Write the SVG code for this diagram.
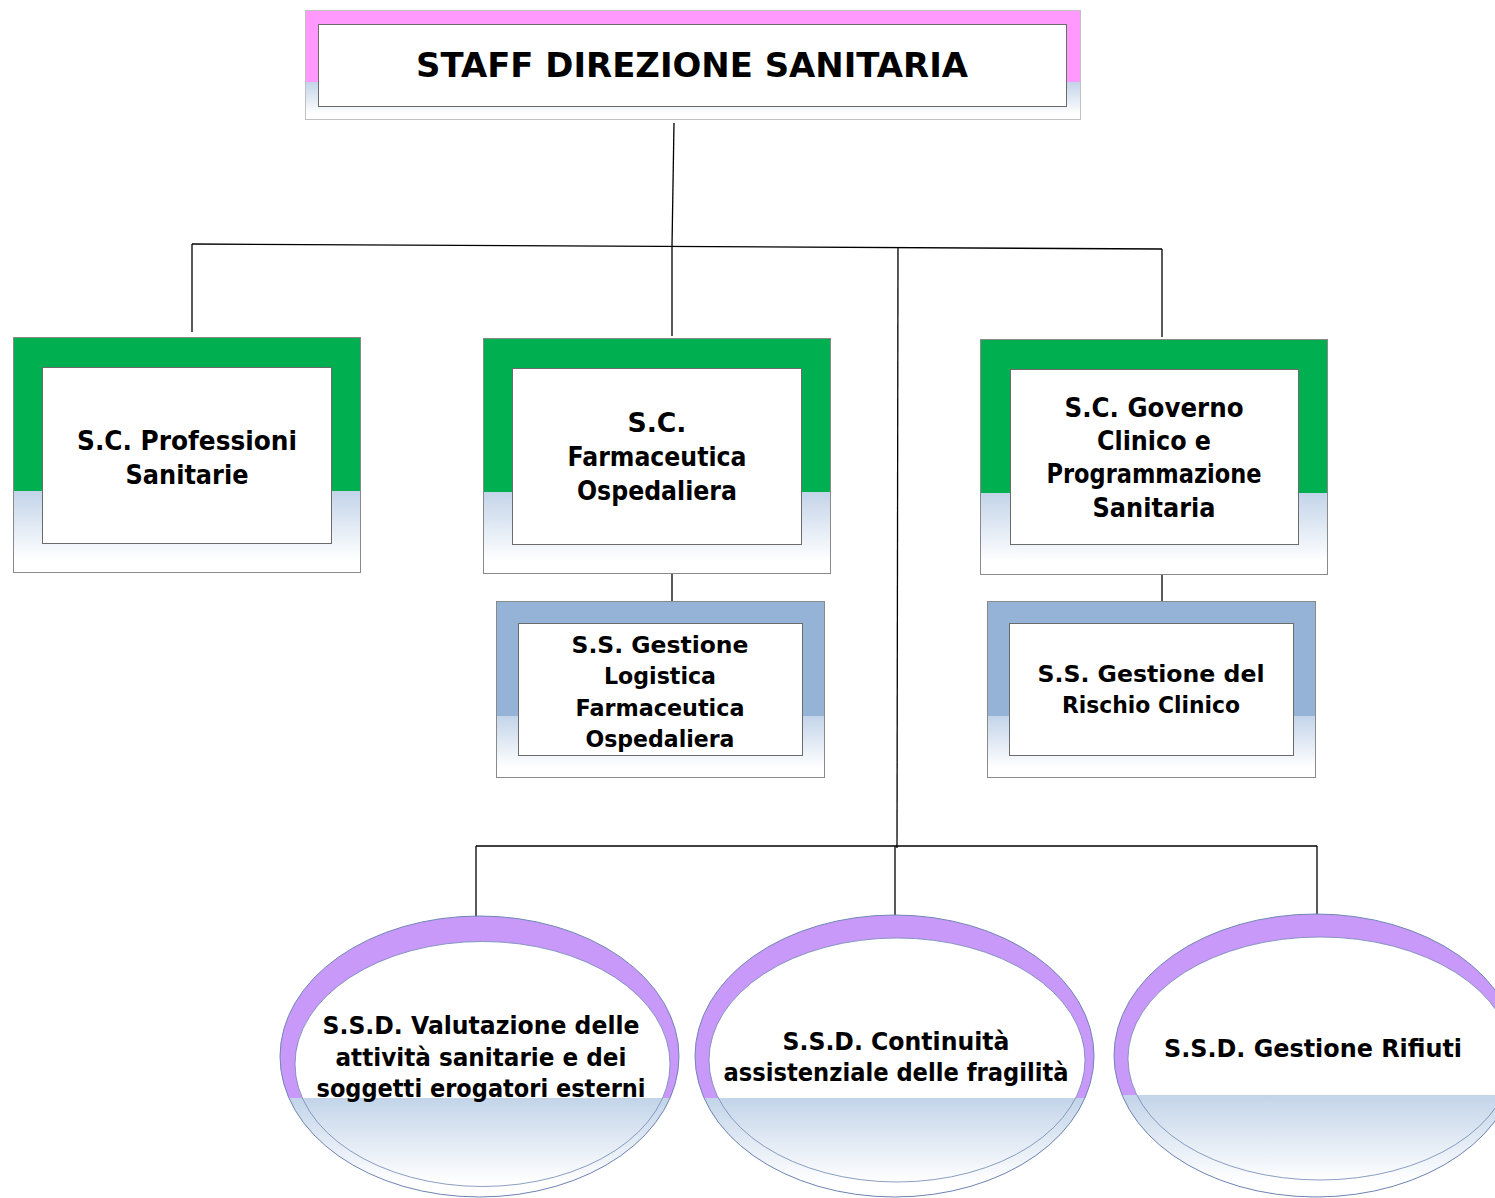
<svg xmlns="http://www.w3.org/2000/svg" width="1495" height="1198" viewBox="0 0 1495 1198">
<defs>
<linearGradient id="fade" x1="0" y1="0" x2="0" y2="1">
<stop offset="0" stop-color="#c3d4e9"/>
<stop offset="0.85" stop-color="#ffffff"/>
<stop offset="1" stop-color="#ffffff"/>
</linearGradient>
<clipPath id="c1"><ellipse cx="479.5" cy="1056.5" rx="199.5" ry="140.5"/></clipPath>
<clipPath id="c2"><ellipse cx="894.5" cy="1056" rx="199.5" ry="141"/></clipPath>
<clipPath id="c3"><ellipse cx="1316" cy="1055.5" rx="202" ry="141.5"/></clipPath>
</defs>
<style>
.t{font-family:"DejaVu Sans","Liberation Sans",sans-serif;font-weight:bold;fill:#000;text-anchor:middle}
.f26{font-size:26px}.f23{font-size:23px}.f25{font-size:25px}.f33{font-size:33px}
.outer{fill:none;stroke:#8a8a8a;stroke-width:1}
.inner{fill:#fff;stroke:#6b6b6b;stroke-width:1}
.green{fill:#00b050}.blue{fill:#95b3d7}.pink{fill:#ff99fe}.purple{fill:#c899f9}
.eo{fill:none;stroke:#6f87b3;stroke-width:1}
.ei{fill:none;stroke:#6f87b3;stroke-width:0.8}
.conn line,.conn polyline{stroke:#000;stroke-width:1.3;fill:none}
</style>

<g id="connectors" class="conn">
<line x1="674" y1="123" x2="672" y2="246"/>
<line x1="192" y1="244" x2="1162" y2="249"/>
<line x1="192" y1="244" x2="192" y2="332"/>
<line x1="672" y1="246" x2="672" y2="336"/>
<line x1="1162" y1="249" x2="1162" y2="337"/>
<line x1="898" y1="248" x2="897" y2="848"/>
<line x1="672" y1="573" x2="672" y2="601"/>
<line x1="1162" y1="574" x2="1162" y2="601"/>
<line x1="476" y1="846" x2="1317" y2="846"/>
<line x1="476" y1="846" x2="476" y2="917"/>
<line x1="895" y1="846" x2="895" y2="916"/>
<line x1="1317" y1="846" x2="1317" y2="915"/>
</g>

<g id="staff-direzione">
<rect class="pink" x="305" y="10" width="776" height="72"/>
<rect fill="url(#fade)" x="305" y="82" width="776" height="38"/>
<rect x="305.5" y="10.5" width="775" height="109" fill="none" stroke="#c0c0c0"/>
<rect class="inner" x="318.5" y="24.5" width="748" height="82" stroke="#8a8a8a"/>
<text class="t f33" x="692" y="77" textLength="552" lengthAdjust="spacingAndGlyphs">STAFF DIREZIONE SANITARIA</text>
</g>

<g id="sc-professioni">
<rect class="green" x="13" y="337" width="347" height="154"/>
<rect fill="url(#fade)" x="13" y="491" width="347" height="81"/>
<rect class="outer" x="13.5" y="337.5" width="347" height="235"/>
<rect class="inner" x="42.5" y="367.5" width="289" height="176"/>
<text class="t f26" x="187" y="450" textLength="220" lengthAdjust="spacingAndGlyphs">S.C. Professioni</text>
<text class="t f26" x="187" y="484" textLength="123" lengthAdjust="spacingAndGlyphs">Sanitarie</text>
</g>

<g id="sc-farmaceutica">
<rect class="green" x="483" y="338" width="347" height="154"/>
<rect fill="url(#fade)" x="483" y="492" width="347" height="81"/>
<rect class="outer" x="483.5" y="338.5" width="347" height="235"/>
<rect class="inner" x="512.5" y="368.5" width="289" height="176"/>
<text class="t f26" x="657" y="432" textLength="59" lengthAdjust="spacingAndGlyphs">S.C.</text>
<text class="t f26" x="657" y="466" textLength="179" lengthAdjust="spacingAndGlyphs">Farmaceutica</text>
<text class="t f26" x="657" y="500" textLength="160" lengthAdjust="spacingAndGlyphs">Ospedaliera</text>
</g>

<g id="sc-governo">
<rect class="green" x="980" y="339" width="347" height="154"/>
<rect fill="url(#fade)" x="980" y="493" width="347" height="81"/>
<rect class="outer" x="980.5" y="339.5" width="347" height="235"/>
<rect class="inner" x="1010.5" y="369.5" width="288" height="175"/>
<text class="t f26" x="1154" y="417" textLength="179" lengthAdjust="spacingAndGlyphs">S.C. Governo</text>
<text class="t f26" x="1154" y="450" textLength="114" lengthAdjust="spacingAndGlyphs">Clinico e</text>
<text class="t f26" x="1154" y="483" textLength="215" lengthAdjust="spacingAndGlyphs">Programmazione</text>
<text class="t f26" x="1154" y="517" textLength="123" lengthAdjust="spacingAndGlyphs">Sanitaria</text>
</g>

<g id="ss-logistica">
<rect class="blue" x="496" y="601" width="328" height="115"/>
<rect fill="url(#fade)" x="496" y="716" width="328" height="61"/>
<rect class="outer" x="496.5" y="601.5" width="328" height="176" stroke="#a0a0a0"/>
<rect class="inner" x="518.5" y="623.5" width="284" height="132"/>
<text class="t f23" x="660" y="653" textLength="177" lengthAdjust="spacingAndGlyphs">S.S. Gestione</text>
<text class="t f23" x="660" y="684" textLength="112" lengthAdjust="spacingAndGlyphs">Logistica</text>
<text class="t f23" x="660" y="716" textLength="169" lengthAdjust="spacingAndGlyphs">Farmaceutica</text>
<text class="t f23" x="660" y="747" textLength="149" lengthAdjust="spacingAndGlyphs">Ospedaliera</text>
</g>

<g id="ss-rischio">
<rect class="blue" x="987" y="601" width="328" height="115"/>
<rect fill="url(#fade)" x="987" y="716" width="328" height="61"/>
<rect class="outer" x="987.5" y="601.5" width="328" height="176" stroke="#a0a0a0"/>
<rect class="inner" x="1009.5" y="623.5" width="284" height="132"/>
<text class="t f23" x="1151" y="682" textLength="227" lengthAdjust="spacingAndGlyphs">S.S. Gestione del</text>
<text class="t f23" x="1151" y="713" textLength="178" lengthAdjust="spacingAndGlyphs">Rischio Clinico</text>
</g>

<g id="ssd-valutazione">
<ellipse class="purple" cx="479.5" cy="1056.5" rx="199.5" ry="140.5"/>
<ellipse fill="#fff" cx="482.5" cy="1064" rx="187.5" ry="122.5"/>
<rect fill="url(#fade)" x="270" y="1098" width="420" height="100" clip-path="url(#c1)"/>
<ellipse class="eo" cx="479.5" cy="1056.5" rx="199.5" ry="140.5"/>
<ellipse class="ei" cx="482.5" cy="1064" rx="187.5" ry="122.5"/>
<text class="t f25" x="481" y="1034" textLength="317" lengthAdjust="spacingAndGlyphs">S.S.D. Valutazione delle</text>
<text class="t f25" x="481" y="1066" textLength="291" lengthAdjust="spacingAndGlyphs">attività sanitarie e dei</text>
<text class="t f25" x="481" y="1097" textLength="329" lengthAdjust="spacingAndGlyphs">soggetti erogatori esterni</text>
</g>

<g id="ssd-continuita">
<ellipse class="purple" cx="894.5" cy="1056" rx="199.5" ry="141"/>
<ellipse fill="#fff" cx="897" cy="1060" rx="188" ry="122"/>
<rect fill="url(#fade)" x="690" y="1098" width="420" height="100" clip-path="url(#c2)"/>
<ellipse class="eo" cx="894.5" cy="1056" rx="199.5" ry="141"/>
<ellipse class="ei" cx="897" cy="1060" rx="188" ry="122"/>
<text class="t f25" x="896" y="1050" textLength="227" lengthAdjust="spacingAndGlyphs">S.S.D. Continuità</text>
<text class="t f25" x="896" y="1081" textLength="345" lengthAdjust="spacingAndGlyphs">assistenziale delle fragilità</text>
</g>

<g id="ssd-rifiuti">
<ellipse class="purple" cx="1316" cy="1055.5" rx="202" ry="141.5"/>
<ellipse fill="#fff" cx="1320" cy="1058.5" rx="192" ry="121.5"/>
<rect fill="url(#fade)" x="1100" y="1095" width="420" height="103" clip-path="url(#c3)"/>
<ellipse class="eo" cx="1316" cy="1055.5" rx="202" ry="141.5"/>
<ellipse class="ei" cx="1320" cy="1058.5" rx="192" ry="121.5"/>
<text class="t f25" x="1313" y="1057" textLength="298" lengthAdjust="spacingAndGlyphs">S.S.D. Gestione Rifiuti</text>
</g>
</svg>
